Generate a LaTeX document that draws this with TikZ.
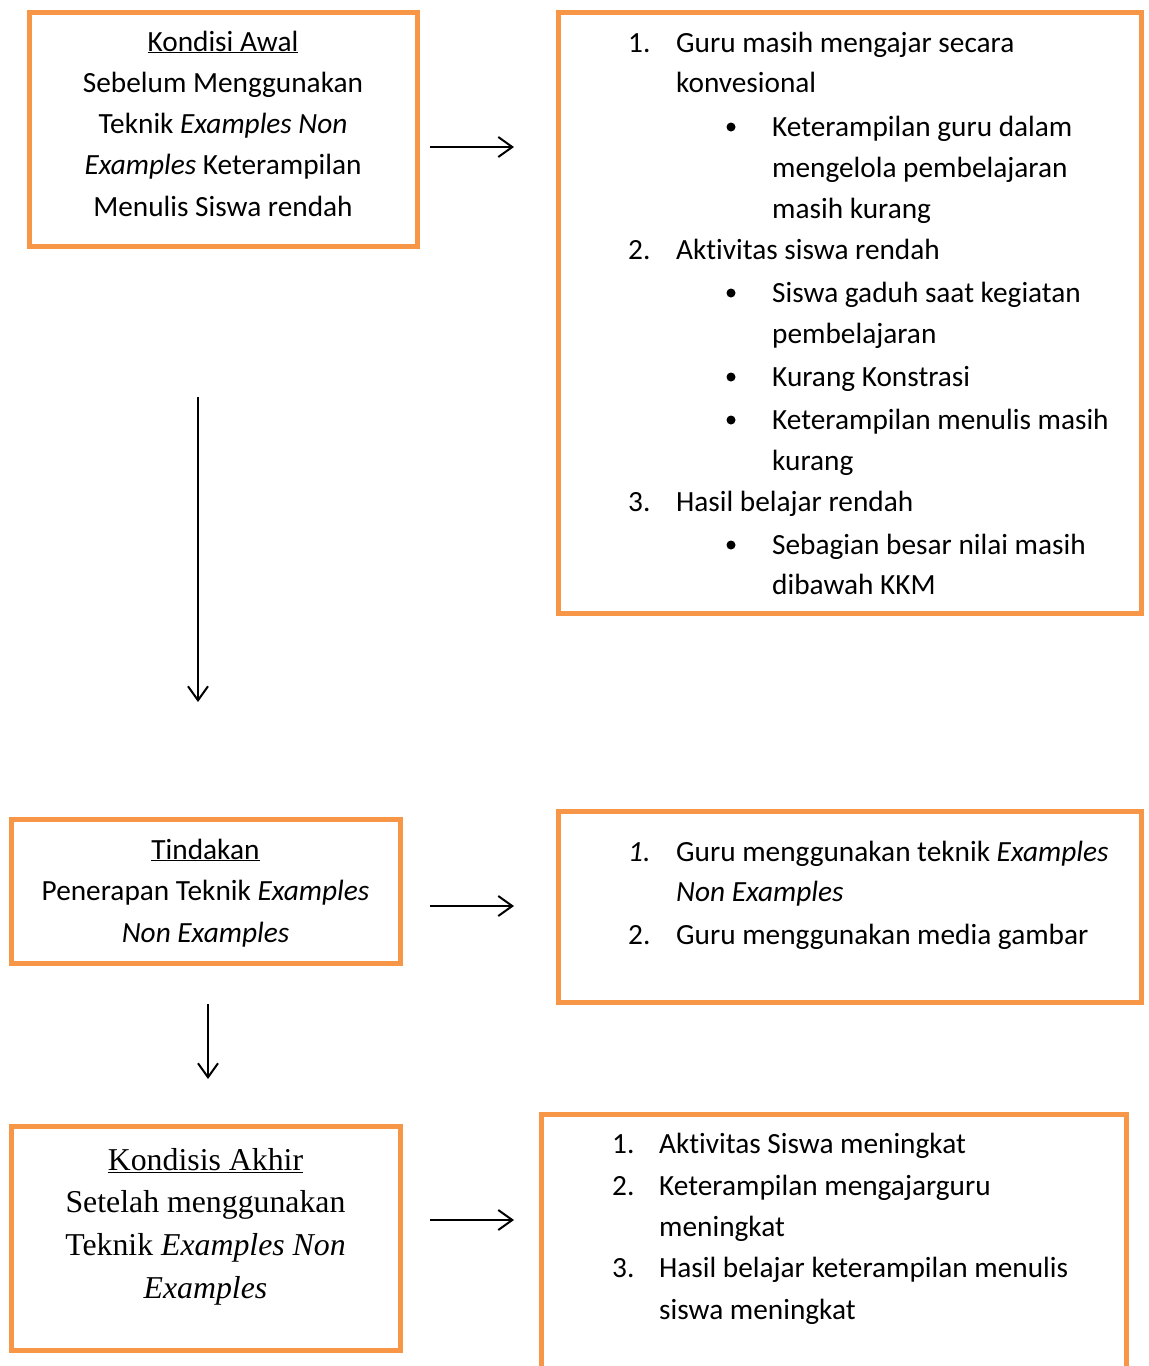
\documentclass[tikz,border=0pt]{standalone}
\usepackage{fontspec}
\setmainfont{Carlito}[Ligatures={NoCommon}]
\newfontfamily\timesfont{Liberation Serif}
\usetikzlibrary{arrows.meta}
\definecolor{boxorange}{HTML}{F79646}
\begin{document}
\begin{tikzpicture}[x=1pt,y=-1pt,
  frame/.style={draw=boxorange, line width=5pt, inner sep=0pt, outer sep=0pt},
  txt/.style={anchor=base, inner sep=0pt, font=\fontsize{29.3}{41}\selectfont},
  ltxt/.style={anchor=base west, inner sep=0pt, font=\fontsize{29.3}{41}\selectfont},
  serif/.style={anchor=base, inner sep=0pt, font=\timesfont\fontsize{31.8}{43}\selectfont},
  dot/.style={circle, fill=black, inner sep=0pt, minimum size=9pt},
  arr/.style={line width=2pt, -{Straight Barb[length=14pt,width=20pt,line width=2pt]}}
]
\useasboundingbox[fill=white] (0,0) rectangle (1149,1366);

% ---------- frames ----------
\node[frame, minimum width=388pt, minimum height=234pt] (b1) at (223,129) {};
\node[frame, minimum width=583pt, minimum height=601pt] (b2) at (849.5,312.5) {};
\node[frame, minimum width=389pt, minimum height=144pt] (b3) at (205.5,891) {};
\node[frame, minimum width=583pt, minimum height=191pt] (b4) at (849.5,906.5) {};
\node[frame, minimum width=389pt, minimum height=224pt] (b5) at (205.5,1238) {};
\draw[boxorange, line width=5pt] (541,1380) -- (541,1114.5) -- (1126,1114.5) -- (1126,1380);

% ---------- box 1 ----------
\node[txt] (t1a) at (223,51) {\underline{Kondisi Awal}};
\node[txt] (t1b) at (223,92) {Sebelum Menggunakan};
\node[txt] (t1c) at (223,133) {Teknik \textit{Examples Non}};
\node[txt] (t1d) at (223,174) {\textit{Examples} Keterampilan};
\node[txt] (t1e) at (223,216) {Menulis Siswa rendah};

% ---------- box 2 ----------
\node[ltxt] (n21) at (628,52) {1.};
\node[ltxt] (l21) at (676,52) {Guru masih mengajar secara};
\node[ltxt] (l22) at (676,92) {konvesional};
\node[dot] (d21) at (731,127) {};
\node[ltxt] (l23) at (772,136) {Keterampilan guru dalam};
\node[ltxt] (l24) at (772,177) {mengelola pembelajaran};
\node[ltxt] (l25) at (772,218) {masih kurang};
\node[ltxt] (n22) at (628,259) {2.};
\node[ltxt] (l26) at (676,259) {Aktivitas siswa rendah};
\node[dot] (d22) at (731,293) {};
\node[ltxt] (l27) at (772,302) {Siswa gaduh saat kegiatan};
\node[ltxt] (l28) at (772,343) {pembelajaran};
\node[dot] (d23) at (731,377) {};
\node[ltxt] (l29) at (772,386) {Kurang Konstrasi};
\node[dot] (d24) at (731,420) {};
\node[ltxt] (l210) at (772,429) {Keterampilan menulis masih};
\node[ltxt] (l211) at (772,470) {kurang};
\node[ltxt] (n23) at (628,511) {3.};
\node[ltxt] (l212) at (676,511) {Hasil belajar rendah};
\node[dot] (d25) at (731,545) {};
\node[ltxt] (l213) at (772,554) {Sebagian besar nilai masih};
\node[ltxt] (l214) at (772,594) {dibawah KKM};

% ---------- box 3 ----------
\node[txt] (t3a) at (205.5,859) {\underline{Tindakan}};
\node[txt] (t3b) at (205.5,900) {Penerapan Teknik \textit{Examples}};
\node[txt] (t3c) at (205.5,942) {\textit{Non Examples}};

% ---------- box 4 ----------
\node[ltxt] (n41) at (628,861) {\textit{1.}};
\node[ltxt] (l41) at (676,861) {Guru menggunakan teknik \textit{Examples}};
\node[ltxt] (l42) at (676,901) {\textit{Non Examples}};
\node[ltxt] (n42) at (628,944) {2.};
\node[ltxt] (l43) at (676,944) {Guru menggunakan media gambar};

% ---------- box 5 ----------
\node[serif] (t5a) at (205.5,1170) {\underline{Kondisis Akhir}};
\node[serif] (t5b) at (205.5,1212) {Setelah menggunakan};
\node[serif] (t5c) at (205.5,1255) {Teknik \textit{Examples Non}};
\node[serif] (t5d) at (205.5,1298) {\textit{Examples}};

% ---------- box 6 ----------
\node[ltxt] (n61) at (612,1153) {1.};
\node[ltxt] (l61) at (659,1153) {Aktivitas Siswa meningkat};
\node[ltxt] (n62) at (612,1195) {2.};
\node[ltxt] (l62) at (659,1195) {Keterampilan mengajarguru};
\node[ltxt] (l63) at (659,1236) {meningkat};
\node[ltxt] (n63) at (612,1277) {3.};
\node[ltxt] (l64) at (659,1277) {Hasil belajar keterampilan menulis};
\node[ltxt] (l65) at (659,1319) {siswa meningkat};

% ---------- arrows ----------
\coordinate (a1s) at (430,147);  \coordinate (a1e) at (514,147);
\coordinate (a2s) at (430,906);  \coordinate (a2e) at (514,906);
\coordinate (a3s) at (430,1220); \coordinate (a3e) at (514,1220);
\coordinate (v1s) at (198,397);  \coordinate (v1e) at (198,702);
\coordinate (v2s) at (208,1004); \coordinate (v2e) at (208,1079);
\draw[arr] (a1s) -- (a1e);
\draw[arr] (a2s) -- (a2e);
\draw[arr] (a3s) -- (a3e);
\draw[arr] (v1s) -- (v1e);
\draw[arr] (v2s) -- (v2e);
\end{tikzpicture}
\end{document}
